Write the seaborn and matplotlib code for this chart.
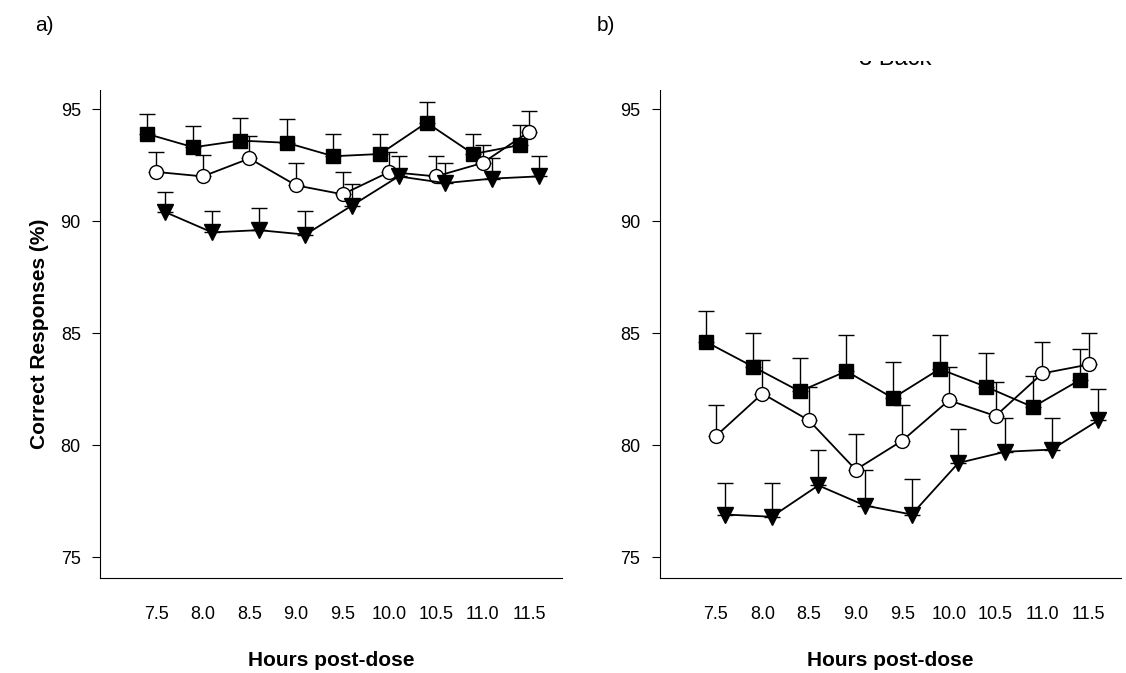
import matplotlib
matplotlib.use("Agg")
import matplotlib.pyplot as plt
import seaborn as sns
import numpy as np
import pandas as pd

sns.set_style("ticks")
plt.rcParams['font.family'] = ['Liberation Sans', 'DejaVu Sans']
plt.rcParams['text.color'] = 'black'
plt.rcParams['axes.labelcolor'] = 'black'
plt.rcParams['xtick.color'] = 'black'
plt.rcParams['ytick.color'] = 'black'
plt.rcParams['axes.edgecolor'] = 'black'

HOURS = [7.5, 8.0, 8.5, 9.0, 9.5, 10.0, 10.5, 11.0, 11.5]

# panel a
A_SQUARE = [93.9, 93.3, 93.6, 93.5, 92.9, 93.0, 94.4, 93.0, 93.4]
A_SQUARE_ERR = [0.9, 0.95, 1.0, 1.05, 1.0, 0.9, 0.9, 0.9, 0.9]
A_CIRCLE = [92.2, 92.0, 92.8, 91.6, 91.2, 92.2, 92.0, 92.6, 94.0]
A_CIRCLE_ERR = [0.9, 0.95, 1.0, 1.0, 1.0, 0.9, 0.9, 0.8, 0.9]
A_TRI = [90.4, 89.5, 89.6, 89.4, 90.7, 92.0, 91.7, 91.9, 92.0]
A_TRI_ERR = [0.9, 0.95, 1.0, 1.05, 0.95, 0.9, 0.9, 0.9, 0.9]

# panel b
B_SQUARE = [84.6, 83.5, 82.4, 83.3, 82.1, 83.4, 82.6, 81.7, 82.9]
B_SQUARE_ERR = [1.4, 1.5, 1.5, 1.6, 1.6, 1.5, 1.5, 1.4, 1.4]
B_CIRCLE = [80.4, 82.3, 81.1, 78.9, 80.2, 82.0, 81.3, 83.2, 83.6]
B_CIRCLE_ERR = [1.4, 1.5, 1.5, 1.6, 1.6, 1.5, 1.5, 1.4, 1.4]
B_TRI = [76.9, 76.8, 78.2, 77.3, 76.9, 79.2, 79.7, 79.8, 81.1]
B_TRI_ERR = [1.4, 1.5, 1.6, 1.6, 1.6, 1.5, 1.5, 1.4, 1.4]

fig = plt.figure(figsize=(11.26, 6.73), dpi=100)
ax_a = fig.add_axes([0.089, 0.141, 0.41, 0.725])
ax_b = fig.add_axes([0.586, 0.141, 0.41, 0.725])

series_styles = [("s", "black", -0.1), ("o", "white", 0.0), ("v", "black", 0.1)]

def draw_panel(ax, groups):
    for (vals, errs), (mk, fc, dx) in zip(groups, series_styles):
        x = np.array(HOURS) + dx
        df = pd.DataFrame({"x": x, "y": vals})
        ax.errorbar(x, vals, yerr=[np.zeros(len(errs)), errs], fmt="none",
                    ecolor="black", elinewidth=1, capsize=6, capthick=1, zorder=1)
        sns.lineplot(data=df, x="x", y="y", ax=ax, color="black", linewidth=1.3,
                     marker=mk, markersize=11 if mk == "v" else 10,
                     markerfacecolor=fc, markeredgecolor="black",
                     markeredgewidth=1, zorder=2)
    ax.set_xlim(6.9, 11.85)
    ax.set_ylim(74.06, 95.85)
    ax.set_xticks(HOURS)
    ax.set_xticklabels([f"{h:.1f}" for h in HOURS])
    ax.set_yticks([75, 80, 85, 90, 95])
    ax.set_yticklabels(["75", "80", "85", "90", "95"])
    ax.tick_params(direction="out", length=6, pad=8, labelsize=13)
    ax.tick_params(axis="x", length=0, pad=20)
    ax.spines["top"].set_visible(False)
    ax.spines["right"].set_visible(False)
    ax.set_xlabel("Hours post-dose", fontsize=15, fontweight="bold", labelpad=20)

draw_panel(ax_a, [(A_SQUARE, A_SQUARE_ERR), (A_CIRCLE, A_CIRCLE_ERR), (A_TRI, A_TRI_ERR)])
draw_panel(ax_b, [(B_SQUARE, B_SQUARE_ERR), (B_CIRCLE, B_CIRCLE_ERR), (B_TRI, B_TRI_ERR)])
ax_a.set_ylabel("Correct Responses (%)", fontsize=15, fontweight="bold", labelpad=8)
ax_b.set_ylabel("")

# partly hidden panel title as in the source
fig.text(0.795, 0.912, "3-Back", ha="center", va="center", fontsize=17)
fig.patches.append(plt.Rectangle((0.55, 0.909), 0.45, 0.1, transform=fig.transFigure,
                                 facecolor="white", edgecolor="none", zorder=5))

fig.text(0.031, 0.962, "a)", fontsize=15, va="center")
fig.text(0.530, 0.962, "b)", fontsize=15, va="center", zorder=6)

fig.savefig("out.png", dpi=100)
